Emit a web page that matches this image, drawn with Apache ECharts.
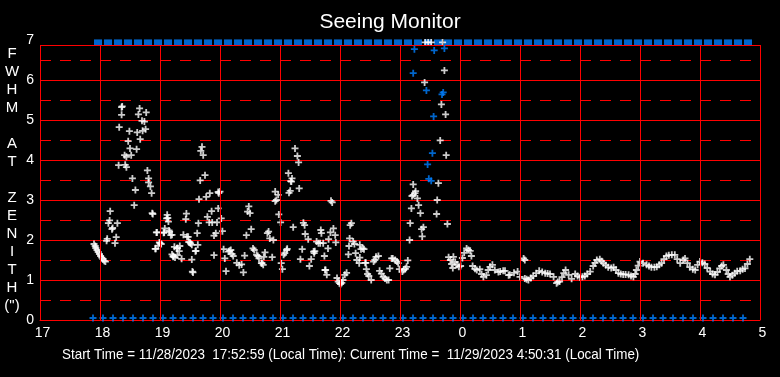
<!DOCTYPE html>
<html>
<head>
<meta charset="utf-8">
<script src="https://cdn.jsdelivr.net/npm/echarts@6/dist/echarts.min.js"></script>
<style>
    html, body { margin: 0; padding: 0; background: #000; }
    #chart { width: 780px; height: 377px; }
</style>
</head>
<body>
<div id="chart"></div>
<script>
var tickHours = [17, 18, 19, 20, 21, 22, 23, 24, 25, 26, 27, 28, 29];
var tickLabels = ["17", "18", "19", "20", "21", "22", "23", "0", "1", "2", "3", "4", "5"];
var yTicks = [0, 1, 2, 3, 4, 5, 6, 7];

// status marks, one every 10 min (top strip = over range, bottom row = flags)
var markTimes = ["17:53", "18:03", "18:13", "18:23", "18:33", "18:43", "18:53", "19:03", "19:13", "19:23",
    "19:33", "19:43", "19:53", "20:03", "20:13", "20:23", "20:33", "20:43", "20:53", "21:03", "21:13",
    "21:23", "21:33", "21:43", "21:53", "22:03", "22:13", "22:23", "22:33", "22:43", "22:53", "23:03",
    "23:13", "23:23", "23:33", "23:43", "23:53", "0:03", "0:13", "0:23", "0:33", "0:43", "0:53", "1:03",
    "1:13", "1:23", "1:33", "1:43", "1:53", "2:03", "2:13", "2:23", "2:33", "2:43", "2:53", "3:03",
    "3:13", "3:23", "3:33", "3:43", "3:53", "4:03", "4:13", "4:23", "4:33", "4:43"];
var topValue = 6.94;
var bottomValue = 0.05;

// FWHM readings [hour, arcsec]  (hours after midnight are +24)
var fwhmEvening = [
    [17.90, 1.90], [17.92, 1.85], [17.93, 1.80], [17.95, 1.75], [17.97, 1.70], [17.99, 1.65], [18.01, 1.60],
    [18.03, 1.56], [18.05, 1.52], [18.07, 1.48], [18.09, 1.46], [18.11, 1.98], [18.12, 2.03], [18.14, 2.42],
    [18.16, 2.49], [18.17, 2.72], [18.20, 2.27], [18.21, 2.30], [18.25, 1.92], [18.27, 2.07], [18.29, 2.42],
    [18.31, 3.87], [18.32, 4.82], [18.36, 5.32], [18.37, 5.34], [18.36, 5.13], [18.41, 4.12], [18.42, 3.88],
    [18.44, 4.08], [18.44, 3.82], [18.47, 4.47], [18.49, 4.72], [18.50, 4.29], [18.52, 4.12], [18.54, 3.54],
    [18.57, 2.87], [18.59, 3.25], [18.61, 4.27], [18.62, 4.69], [18.64, 5.14], [18.66, 5.29], [18.67, 4.52],
    [18.70, 4.98], [18.71, 4.73], [18.74, 4.96], [18.76, 4.77], [18.77, 5.19], [18.79, 3.74], [18.81, 3.54],
    [18.81, 3.44], [18.84, 3.34], [18.86, 3.17], [18.87, 2.67], [18.88, 2.65], [18.92, 1.78], [18.93, 1.78],
    [18.94, 2.19], [18.95, 2.19], [18.97, 1.86], [18.99, 1.94], [19.00, 1.92], [19.02, 1.90], [19.06, 2.18],
    [19.07, 2.19], [19.08, 2.29], [19.11, 2.54], [19.12, 2.63], [19.13, 2.55], [19.14, 2.46], [19.15, 2.24],
    [19.16, 2.21], [19.18, 2.12], [19.20, 2.13], [19.20, 1.64], [19.22, 1.58], [19.22, 1.60], [19.24, 1.83],
    [19.25, 1.56], [19.28, 1.79], [19.29, 1.80], [19.29, 1.62], [19.32, 1.72], [19.33, 1.85], [19.36, 1.53],
    [19.39, 2.13], [19.43, 2.52], [19.44, 2.66], [19.45, 2.08], [19.47, 2.08], [19.48, 1.95], [19.50, 1.94],
    [19.51, 1.91], [19.53, 1.51], [19.53, 1.88], [19.54, 1.21], [19.55, 1.19], [19.59, 1.72], [19.60, 1.73],
    [19.62, 2.17], [19.63, 1.88], [19.64, 2.42], [19.65, 3.02], [19.67, 3.49], [19.68, 4.23], [19.70, 4.33],
    [19.72, 4.12], [19.75, 3.62], [19.77, 3.08], [19.79, 2.58], [19.82, 2.44], [19.83, 3.17], [19.86, 2.72],
    [19.87, 2.44], [19.90, 2.11], [19.90, 1.62], [19.93, 2.17], [19.95, 2.44], [19.97, 2.79], [19.97, 3.20],
    [19.98, 3.17]
];
var fwhmNight = [
    [20.00, 3.21], [20.02, 2.54], [20.04, 2.22], [20.06, 1.77], [20.08, 1.54], [20.10, 1.22], [20.14, 1.71],
    [20.16, 1.73], [20.18, 1.75], [20.20, 1.65], [20.22, 1.60], [20.28, 1.43], [20.32, 1.37], [20.36, 1.39],
    [20.39, 1.19], [20.41, 1.61], [20.44, 2.12], [20.46, 2.71], [20.48, 2.84], [20.50, 2.67], [20.52, 2.27],
    [20.55, 1.79], [20.57, 1.75], [20.61, 1.63], [20.63, 1.60], [20.65, 1.54], [20.69, 1.42], [20.70, 1.42],
    [20.72, 1.38], [20.73, 1.58], [20.75, 1.69], [20.79, 2.17], [20.81, 2.21], [20.83, 2.04], [20.87, 1.57],
    [20.89, 2.00], [20.92, 2.97], [20.94, 3.00], [20.92, 3.21], [20.97, 3.13], [20.98, 2.64], [21.01, 2.44],
    [21.02, 1.42], [21.04, 1.27], [21.06, 1.63], [21.08, 1.67], [21.11, 1.75], [21.12, 1.78], [21.15, 3.18],
    [21.17, 3.23], [21.18, 3.47], [21.20, 3.54], [21.14, 3.67], [21.19, 3.46], [21.22, 2.32], [21.25, 4.29],
    [21.29, 4.10], [21.31, 3.94], [21.32, 3.29], [21.34, 1.52], [21.37, 1.77], [21.39, 2.43], [21.41, 2.37],
    [21.42, 2.15], [21.47, 2.02], [21.49, 1.35], [21.52, 1.52], [21.56, 1.71], [21.57, 1.67], [21.58, 1.72],
    [21.61, 1.96], [21.64, 1.92], [21.67, 1.92], [21.68, 2.25], [21.69, 2.17], [21.72, 1.92], [21.74, 1.60],
    [21.75, 1.25], [21.76, 1.25], [21.78, 1.13], [21.80, 1.79], [21.81, 2.02], [21.84, 2.19], [21.85, 2.98],
    [21.87, 2.94], [21.89, 2.29], [21.92, 2.12], [21.93, 1.94], [21.95, 1.05], [21.97, 0.96], [21.99, 0.92],
    [22.01, 0.90], [22.03, 0.93], [22.05, 1.00], [22.08, 1.13], [22.11, 1.18], [22.14, 1.64], [22.15, 1.85],
    [22.16, 2.04], [22.17, 2.37], [22.19, 2.42], [22.22, 1.96], [22.24, 1.90], [22.26, 1.67], [22.28, 1.50],
    [22.32, 1.42], [22.33, 1.56], [22.33, 1.88], [22.35, 1.77], [22.38, 1.79], [22.40, 1.77], [22.42, 1.43],
    [22.43, 1.43], [22.44, 1.27], [22.46, 1.15], [22.48, 1.10], [22.52, 1.00], [22.56, 1.46], [22.58, 1.50],
    [22.60, 1.58], [22.64, 1.60], [22.66, 1.23], [22.69, 1.16], [22.72, 1.08], [22.75, 1.04], [22.78, 1.00],
    [22.81, 1.00], [22.83, 1.29], [22.86, 1.54], [22.88, 1.54], [22.92, 1.50], [22.95, 1.46], [22.97, 1.42],
    [22.99, 1.27], [23.04, 1.21], [23.06, 1.25], [23.09, 1.28], [23.11, 1.33], [23.13, 1.49], [23.16, 2.00],
    [23.17, 2.42], [23.19, 2.79], [23.20, 3.10], [23.22, 3.13], [23.22, 3.39], [23.25, 3.17], [23.26, 3.22],
    [23.29, 3.04], [23.31, 2.87], [23.34, 2.67], [23.36, 2.27], [23.37, 2.09], [23.39, 2.32], [23.41, 5.94],
    [23.61, 2.65], [23.62, 3.00], [23.64, 3.42], [23.67, 4.49], [23.69, 5.39], [23.74, 6.24], [23.76, 5.14],
    [23.77, 4.12], [23.79, 2.40], [23.42, 6.94], [23.47, 6.94], [23.52, 6.94], [23.71, 6.94]
];
var fwhmMorning = [
    [23.81, 1.57], [23.84, 1.50], [23.86, 1.40], [23.88, 1.30], [23.89, 1.58], [23.92, 1.45], [23.95, 1.38],
    [23.98, 1.33], [24.01, 1.35], [24.04, 1.55], [24.07, 1.68], [24.11, 1.79], [24.14, 1.75], [24.17, 1.73],
    [24.19, 1.60], [24.21, 1.35], [24.25, 1.28], [24.28, 1.25], [24.33, 1.27], [24.36, 1.15], [24.39, 1.08],
    [24.44, 1.12], [24.47, 1.25], [24.50, 1.33], [24.54, 1.38], [24.58, 1.25], [24.64, 1.20], [24.67, 1.21],
    [24.72, 1.23], [24.75, 1.23], [24.81, 1.12], [24.83, 1.13], [24.90, 1.18], [24.96, 1.21], [25.00, 1.08],
    [25.06, 1.54], [25.08, 1.50], [25.08, 1.04], [25.11, 1.02], [25.14, 1.00], [25.18, 1.05], [25.22, 1.10],
    [25.27, 1.17], [25.32, 1.23], [25.37, 1.20], [25.42, 1.17], [25.46, 1.16], [25.50, 1.15], [25.56, 1.08],
    [25.61, 0.92], [25.63, 0.95], [25.66, 0.96], [25.70, 1.07], [25.73, 1.17], [25.76, 1.25], [25.81, 1.13],
    [25.86, 1.03], [25.92, 1.15], [25.96, 1.10], [26.00, 1.07], [26.04, 1.08], [26.08, 1.10], [26.12, 1.15],
    [26.17, 1.21], [26.22, 1.35], [26.25, 1.43], [26.28, 1.50], [26.33, 1.52], [26.36, 1.47], [26.39, 1.42],
    [26.43, 1.37], [26.47, 1.32], [26.52, 1.30], [26.56, 1.32], [26.60, 1.25], [26.64, 1.17], [26.68, 1.15],
    [26.72, 1.14], [26.76, 1.14], [26.81, 1.13], [26.85, 1.10], [26.89, 1.08], [26.92, 1.15], [26.94, 1.25],
    [26.97, 1.36], [27.00, 1.46], [27.05, 1.42], [27.11, 1.38], [27.15, 1.35], [27.19, 1.32], [27.24, 1.32],
    [27.28, 1.33], [27.32, 1.38], [27.36, 1.42], [27.40, 1.52], [27.44, 1.60], [27.48, 1.62], [27.53, 1.63],
    [27.58, 1.63], [27.62, 1.52], [27.67, 1.42], [27.72, 1.50], [27.75, 1.54], [27.79, 1.42], [27.83, 1.32],
    [27.88, 1.27], [27.92, 1.25], [27.96, 1.38], [28.00, 1.46], [28.04, 1.43], [28.08, 1.40], [28.12, 1.30],
    [28.17, 1.21], [28.21, 1.15], [28.25, 1.13], [28.29, 1.20], [28.33, 1.29], [28.36, 1.35], [28.39, 1.38],
    [28.44, 1.25], [28.47, 1.15], [28.50, 1.08], [28.54, 1.12], [28.58, 1.17], [28.62, 1.22], [28.67, 1.23],
    [28.71, 1.27], [28.75, 1.29], [28.79, 1.40], [28.83, 1.52]
];
// readings flagged in blue
var fwhmFlagged = [
    [23.22, 6.17], [23.24, 6.77], [23.44, 5.74], [23.46, 3.89], [23.48, 3.53], [23.52, 3.48], [23.54, 4.17],
    [23.56, 5.09], [23.57, 6.74], [23.70, 5.64], [23.72, 5.69], [23.74, 6.79]
];

var boxTop = 6.875;
var RED = "#FF0000";
var BLUE = "#0080FF";
var SANS = "'Liberation Sans', Arial, sans-serif";
var CROSS = "path://M2.6,0h1.8v2.6h2.6v1.8h-2.6v2.6h-1.8v-2.6h-2.6v-1.8h2.6z";

function toHour(s) {
    var p = s.split(":");
    var h = Number(p[0]) + Number(p[1]) / 60;
    if (h < 17) h += 24;
    return h;
}

function gridLines() {
    var lines = [];
    for (var i = 0; i < tickHours.length; i++) {
        lines.push([{coord: [tickHours[i], 0]}, {coord: [tickHours[i], boxTop]}]);
    }
    lines.push({yAxis: boxTop});
    return lines;
}

var topMarks = markTimes.map(function (t) { return [toHour(t), topValue]; });
var bottomMarks = markTimes.map(function (t) { return [toHour(t), bottomValue]; });
var fwhmAll = fwhmEvening.concat(fwhmNight, fwhmMorning);

var myChart = echarts.init(document.getElementById("chart"));
var option = {
    backgroundColor: "#000",
    animation: false,
    title: {
        text: "Seeing Monitor",
        left: "center",
        top: 7,
        textStyle: {color: "#fff", fontSize: 21, fontWeight: "normal", fontFamily: SANS}
    },
    grid: {left: 40, right: 20, top: 40, bottom: 57},
    xAxis: {
        type: "value",
        min: 17,
        max: 29,
        interval: 1,
        axisLine: {show: true, lineStyle: {color: RED, width: 1}},
        axisTick: {show: false},
        splitLine: {show: false},
        axisLabel: {
            color: "#fff",
            fontSize: 14,
            fontFamily: SANS,
            margin: 6,
            padding: [0, 0, 0, 5],
            formatter: function (v) {
                var i = tickHours.indexOf(v);
                return i >= 0 ? tickLabels[i] : "";
            }
        }
    },
    yAxis: {
        type: "value",
        min: yTicks[0],
        max: yTicks[yTicks.length - 1],
        interval: 1,
        axisLine: {show: false},
        axisTick: {show: false},
        axisLabel: {color: "#fff", fontSize: 14, fontFamily: SANS, margin: 6},
        splitLine: {show: true, showMaxLine: false, lineStyle: {color: RED, width: 1}},
        minorTick: {show: false, splitNumber: 2},
        minorSplitLine: {show: true, lineStyle: {color: RED, width: 1, type: [11, 9], dashOffset: 0}}
    },
    graphic: [
        {
            // vertical axis title, one letter per line
            type: "text",
            x: 12,
            y: 45,
            style: {
                text: "F\nW\nH\nM\n\nA\nT\n\nZ\nE\nN\nI\nT\nH\n(\")",
                fill: "#fff",
                font: "15px " + SANS,
                lineHeight: 18,
                align: "center",
                verticalAlign: "top"
            }
        },
        {
            type: "text",
            x: 62,
            y: 347,
            scaleX: 0.895,
            style: {
                text: "Start Time = 11/28/2023  17:52:59 (Local Time): Current Time =  11/29/2023 4:50:31 (Local Time)",
                fill: "#fff",
                font: "15px " + SANS,
                verticalAlign: "top"
            }
        }
    ],
    series: [
        {
            // frame: hour lines and top edge of the box
            type: "scatter",
            data: [],
            z: 1,
            silent: true,
            markLine: {
                silent: true,
                symbol: "none",
                label: {show: false},
                animation: false,
                lineStyle: {color: RED, width: 1, type: "solid"},
                data: gridLines()
            }
        },
        {
            type: "scatter",
            data: topMarks,
            clip: false,
            z: 3,
            symbol: "rect",
            symbolSize: [8, 6],
            symbolOffset: [5, 0],
            itemStyle: {color: BLUE}
        },
        {
            type: "scatter",
            data: bottomMarks,
            clip: false,
            z: 3,
            symbol: CROSS,
            symbolSize: 7,
            itemStyle: {color: BLUE}
        },
        {
            type: "scatter",
            data: fwhmAll,
            clip: false,
            z: 4,
            symbol: CROSS,
            symbolSize: 7,
            itemStyle: {color: "#fff"}
        },
        {
            type: "scatter",
            data: fwhmFlagged,
            z: 5,
            symbol: CROSS,
            symbolSize: 7,
            itemStyle: {color: BLUE}
        }
    ]
};
myChart.setOption(option);
</script>
</body>
</html>
